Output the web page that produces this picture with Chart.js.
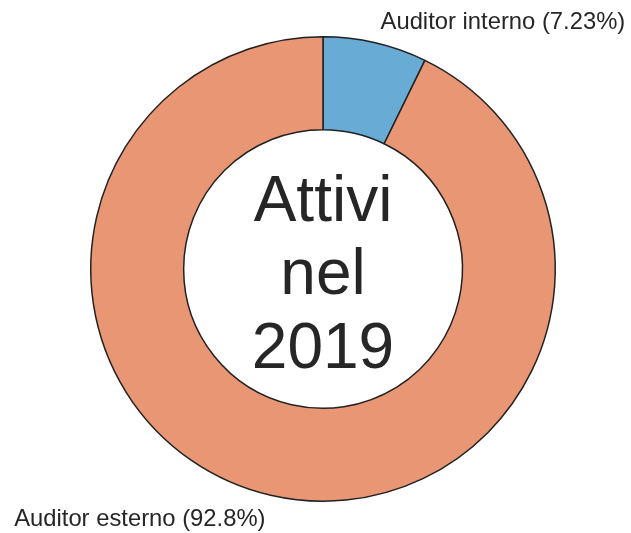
<!DOCTYPE html>
<html>
<head>
<meta charset="utf-8">
<script src="https://cdn.jsdelivr.net/npm/chart.js@4/dist/chart.umd.min.js"></script>
<style>
  html, body { margin: 0; padding: 0; background: #fff; }
  #wrap { width: 631px; height: 533px; }
</style>
</head>
<body>
<div id="wrap"><canvas id="pieChart" width="631" height="533"></canvas></div>
<script>
const categories = ['Auditor interno', 'Auditor esterno'];
const values = [7.23, 92.77];
const pctLabels = ['7.23%', '92.8%'];
const colors = ['#68abd5', '#e89674'];
const centerLines = ['Attivi', 'nel', '2019'];

// labels placed like matplotlib pie labels (1.1 x radius, left/right aligned)
const labelPlugin = {
    id: 'pieLabels',
    afterDatasetsDraw(chart) {
        const ctx = chart.ctx;
        const arcs = chart.getDatasetMeta(0).data;
        ctx.save();
        ctx.fillStyle = '#262626';
        ctx.font = '23.8px "Liberation Sans", Arial, sans-serif';
        ctx.textBaseline = 'middle';
        arcs.forEach((arc, i) => {
            const mid = (arc.startAngle + arc.endAngle) / 2;
            const r = arc.outerRadius * 1.1;
            const x = arc.x + Math.cos(mid) * r;
            const y = arc.y + Math.sin(mid) * r;
            ctx.textAlign = Math.cos(mid) >= 0 ? 'left' : 'right';
            ctx.fillText(categories[i] + ' (' + pctLabels[i] + ')', x, y + 2);
        });

        // centre text
        const cx = arcs[0].x, cy = arcs[0].y;
        ctx.font = '64px "Liberation Sans", Arial, sans-serif';
        ctx.textAlign = 'center';
        ctx.textBaseline = 'alphabetic';
        centerLines.forEach((line, i) => {
            ctx.fillText(line, cx, cy + 25 + (i - 1) * 73.5);
        });
        ctx.restore();
    }
};

new Chart(document.getElementById('pieChart').getContext('2d'), {
    type: 'doughnut',
    data: {
        labels: categories,
        datasets: [{
            data: values,
            backgroundColor: colors,
            borderColor: '#222222',
            borderWidth: 1.5,
            borderAlign: 'center'
        }]
    },
    options: {
        responsive: false,
        animation: false,
        cutout: '60%',
        layout: {
            padding: { left: 90, right: 75, top: 36, bottom: 31 }
        },
        plugins: {
            legend: { display: false },
            tooltip: { enabled: false }
        }
    },
    plugins: [labelPlugin]
});
</script>
</body>
</html>
